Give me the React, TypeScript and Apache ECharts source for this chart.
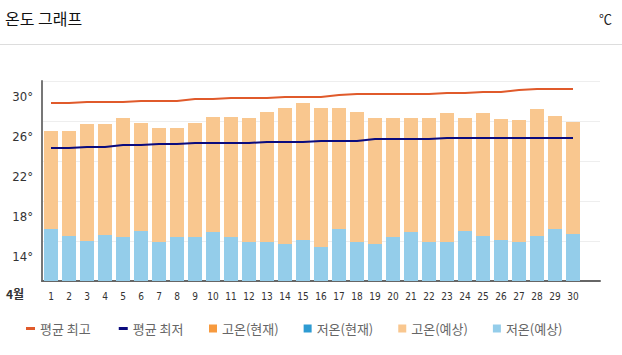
import React, { useEffect, useRef } from "react";
import * as echarts from "echarts";

const days = ["1","2","3","4","5","6","7","8","9","10","11","12","13","14","15","16","17","18","19","20","21","22","23","24","25","26","27","28","29","30",""];
const yTicks = [10, 14, 18, 22, 26, 30];

const avgHigh = [27.8,27.8,27.9,27.9,27.9,28.0,28.0,28.0,28.2,28.2,28.3,28.3,28.3,28.4,28.4,28.4,28.6,28.7,28.7,28.7,28.7,28.7,28.8,28.8,28.9,28.9,29.1,29.2,29.2,29.2];
const avgLow = [23.3,23.3,23.4,23.4,23.6,23.6,23.7,23.7,23.8,23.8,23.8,23.8,23.9,23.9,23.9,24.0,24.0,24.0,24.2,24.2,24.2,24.2,24.3,24.3,24.3,24.3,24.3,24.3,24.3,24.3];
const currentHigh: (number | null)[] = [];
const currentLow: (number | null)[] = [];
const forecastHigh = [25.0,25.0,25.7,25.7,26.3,25.8,25.3,25.3,25.8,26.4,26.4,26.3,26.9,27.3,27.8,27.3,27.3,26.9,26.3,26.3,26.3,26.3,26.8,26.3,26.8,26.2,26.1,27.2,26.5,25.9];
const forecastLow = [15.2,14.5,14.0,14.6,14.4,15.0,13.9,14.4,14.4,14.9,14.4,13.9,13.9,13.7,14.1,13.4,15.2,13.9,13.7,14.4,14.9,13.9,13.9,15.0,14.5,14.1,13.9,14.5,15.2,14.7];

const NUM_FONT = "'Liberation Sans Narrow', 'DejaVu Sans Condensed', Roboto, sans-serif";
const KR_FONT = "'Noto Sans CJK KR', 'Noto Sans', sans-serif";

export default function App() {
  const ref = useRef<HTMLDivElement>(null);
  useEffect(() => {
    document.body.style.margin = "0";
    if (!ref.current) return;
    const chart = echarts.init(ref.current, undefined, { renderer: "svg" });
    const barCommon = {
      type: "bar" as const,
      barWidth: 14,
      barGap: "-100%",
      clip: true,
    };
    chart.setOption({
      animation: false,
      grid: { left: 42, right: 22, top: 81, bottom: 74 },
      graphic: [
        { type: "text", left: 5, top: 10, style: { text: "온도 그래프", font: `16px ${KR_FONT}`, fill: "#111" } },
        { type: "text", right: 10, top: 12, style: { text: "℃", font: `13px ${KR_FONT}`, fill: "#222" } },
        { type: "line", shape: { x1: 0, y1: 44.5, x2: 622, y2: 44.5 }, style: { stroke: "#dddddd", lineWidth: 1 } },
        { type: "text", left: 6, top: 287, style: { text: "4월", font: `bold 12px ${KR_FONT}`, fill: "#333" } },
      ],
      legend: [
        {
          data: ["평균 최고", "평균 최저"],
          left: 21,
          top: 317,
          icon: "rect",
          itemWidth: 9,
          itemHeight: 3,
          itemGap: 28,
          textStyle: { color: "#666", fontSize: 13, fontFamily: KR_FONT },
        },
        {
          data: ["고온(현재)", "저온(현재)", "고온(예상)", "저온(예상)"],
          left: 204,
          top: 317,
          icon: "rect",
          itemWidth: 8,
          itemHeight: 8,
          itemGap: 25,
          textStyle: { color: "#666", fontSize: 13, fontFamily: KR_FONT },
        },
      ],
      xAxis: {
        type: "category",
        data: days,
        boundaryGap: true,
        axisLine: { show: true, lineStyle: { color: "#666", width: 2 } },
        axisTick: { show: false },
        axisLabel: { interval: 0, fontSize: 10, color: "#333", margin: 10, fontFamily: NUM_FONT },
      },
      yAxis: {
        type: "value",
        min: yTicks[0],
        max: yTicks[yTicks.length - 1],
        interval: 4,
        axisLine: { show: true, lineStyle: { color: "#777", width: 2 } },
        axisTick: { show: false },
        splitLine: { show: true, lineStyle: { color: "#eeeeee", width: 1 } },
        axisLabel: {
          showMinLabel: false,
          formatter: "{value}°",
          color: "#333",
          fontSize: 13,
          fontFamily: NUM_FONT,
          margin: 9,
          verticalAlign: "top",
          padding: [9, 0, 0, 0],
        },
      },
      series: [
        { name: "평균 최고", type: "line", data: avgHigh, symbol: "none", z: 5, lineStyle: { color: "#E05A2B", width: 2 }, itemStyle: { color: "#E05A2B" } },
        { name: "평균 최저", type: "line", data: avgLow, symbol: "none", z: 5, lineStyle: { color: "#0B0B7E", width: 2 }, itemStyle: { color: "#0B0B7E" } },
        { ...barCommon, name: "고온(현재)", data: currentHigh, itemStyle: { color: "#F79A3E" } },
        { ...barCommon, name: "저온(현재)", data: currentLow, itemStyle: { color: "#2E9BD2" } },
        { ...barCommon, name: "고온(예상)", data: forecastHigh, itemStyle: { color: "#F9C78F" } },
        { ...barCommon, name: "저온(예상)", data: forecastLow, itemStyle: { color: "#94CDEA" } },
      ],
    });
    return () => chart.dispose();
  }, []);
  return <div ref={ref} style={{ width: 622, height: 355 }} />;
}
